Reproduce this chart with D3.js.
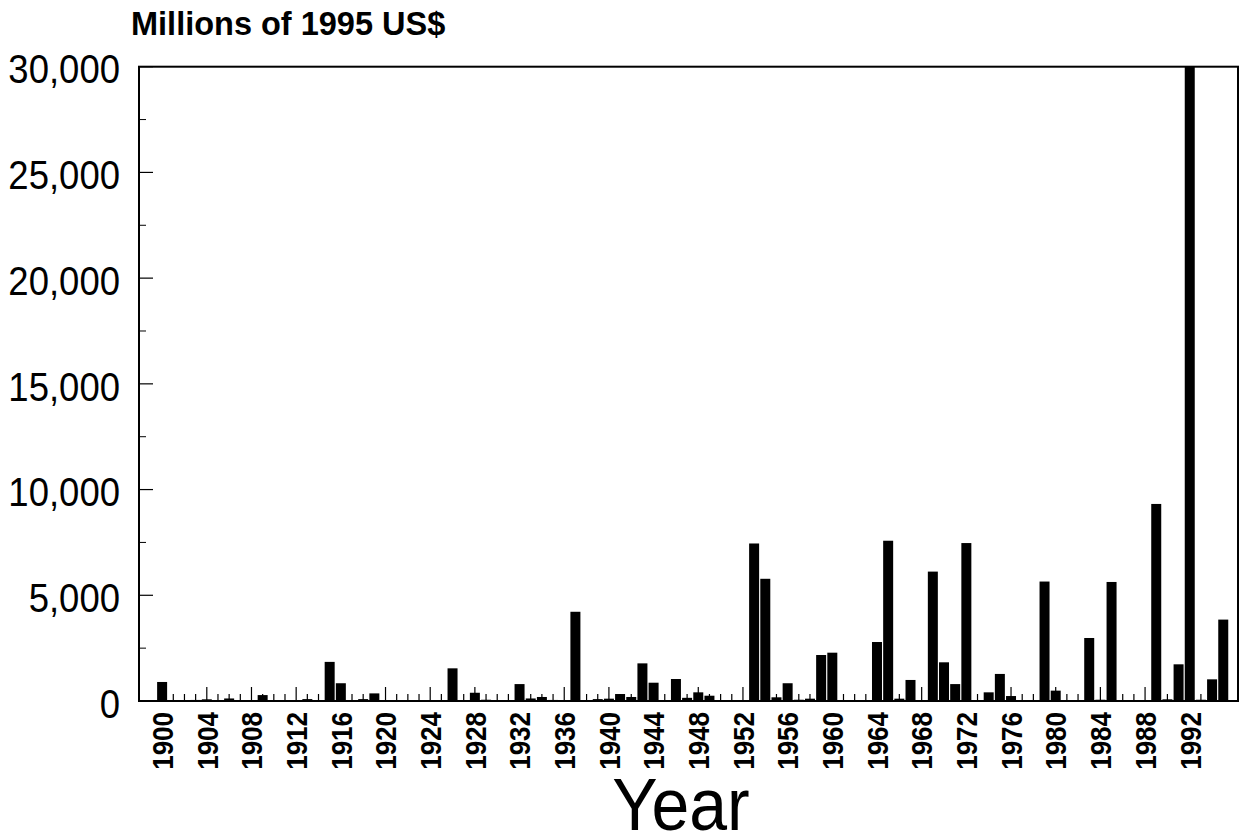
<!DOCTYPE html>
<html>
<head>
<meta charset="utf-8">
<script src="https://cdn.jsdelivr.net/npm/d3@7"></script>
<style>
  html, body { margin: 0; padding: 0; background: #fff; }
  svg { display: block; }
  text { font-family: "Liberation Sans", Arial, Helvetica, sans-serif; fill: #000; }
</style>
</head>
<body>
<svg id="chart" width="1245" height="840"></svg>
<script>
// ---- data ----
const years = d3.range(1900, 1996);
const damages = [
  900, 40, 0, 50, 80, 20, 120, 0, 0, 280,      // 1900-1909
  40, 30, 20, 90, 0, 1850, 840, 20, 90, 360,   // 1910-1919
  30, 40, 0, 0, 20, 0, 1545, 0, 390, 60,       // 1920-1929
  0, 0, 800, 120, 190, 50, 20, 4220, 0, 90,    // 1930-1939
  110, 330, 190, 1780, 865, 40, 1040, 150, 410, 250, // 1940-1949
  30, 20, 20, 7450, 5780, 175, 840, 60, 110, 2175,   // 1950-1959
  2285, 30, 20, 40, 2790, 7580, 110, 995, 20, 6120,  // 1960-1969
  1830, 800, 7470, 20, 410, 1280, 235, 20, 30, 5650, // 1970-1979
  490, 20, 40, 2980, 60, 5630, 30, 20, 40, 9320,     // 1980-1989
  80, 1735, 30000, 60, 1025, 3850                    // 1990-1995
];
const xTickLabels = d3.range(1900, 1993, 4).map(String);
const yTickValues = [0, 5000, 10000, 15000, 20000, 25000, 30000];
const yMinorValues = [2500, 7500, 12500, 17500, 22500, 27500];
const yTitle = "Millions of 1995 US$";
const xTitle = "Year";

// ---- layout ----
const svg = d3.select("#chart");
const L = 139, R = 1238, T = 66.7, B = 701;

const x = d3.scaleLinear().domain([1897.93, 1996.32]).range([L, R]);
const y = d3.scaleLinear().domain([0, 30000]).range([B, T]);
const barW = 10;

// x ticks (inside, upward)
const xt = svg.append("g");
xt.selectAll("line").data(years).join("line")
  .attr("x1", d => x(d)).attr("x2", d => x(d))
  .attr("y1", B).attr("y2", d => (d - 1900) % 4 === 0 ? B - 14 : B - 7)
  .attr("stroke", "#000").attr("stroke-width", 1.2);

// y ticks (inside, rightward)
const yt = svg.append("g");
yt.selectAll("line.major").data(yTickValues).join("line").attr("class", "major")
  .attr("x1", L).attr("x2", L + 14)
  .attr("y1", d => y(d)).attr("y2", d => y(d))
  .attr("stroke", "#000").attr("stroke-width", 1.2);
yt.selectAll("line.minor").data(yMinorValues).join("line").attr("class", "minor")
  .attr("x1", L).attr("x2", L + 7)
  .attr("y1", d => y(d)).attr("y2", d => y(d))
  .attr("stroke", "#000").attr("stroke-width", 1);

// bars
svg.append("g").selectAll("rect").data(years.map((yr, i) => ({yr, v: damages[i]})))
  .join("rect")
  .attr("x", d => x(d.yr) - barW / 2)
  .attr("width", barW)
  .attr("y", d => y(d.v))
  .attr("height", d => B - y(d.v))
  .attr("fill", "#000");

// frame
svg.append("rect")
  .attr("x", L).attr("y", T).attr("width", R - L).attr("height", B - T)
  .attr("fill", "none").attr("stroke", "#000").attr("stroke-width", 2);

// y tick labels
svg.append("g").selectAll("text").data(yTickValues).join("text")
  .attr("transform", d => `translate(120,${y(d) + 2}) scale(1,1.12)`)
  .attr("dy", "0.36em")
  .attr("text-anchor", "end")
  .style("font-size", "36.5px")
  .text(d => d3.format(",")(d));

// x tick labels (rotated)
svg.append("g").selectAll("text").data(xTickLabels).join("text")
  .attr("transform", d => `translate(${x(+d)},${B + 11}) rotate(-90) scale(1,1.15)`)
  .attr("text-anchor", "end")
  .attr("dy", "0.36em")
  .style("font-size", "26px")
  .style("font-weight", "bold")
  .text(d => d);

// titles
svg.append("text")
  .attr("x", 131).attr("y", 35)
  .style("font-size", "32.5px")
  .style("font-weight", "bold")
  .text(yTitle);

svg.append("text")
  .attr("transform", "translate(681,830) scale(1,1.1)")
  .attr("text-anchor", "middle")
  .style("font-size", "68px")
  .text(xTitle);
</script>
</body>
</html>
